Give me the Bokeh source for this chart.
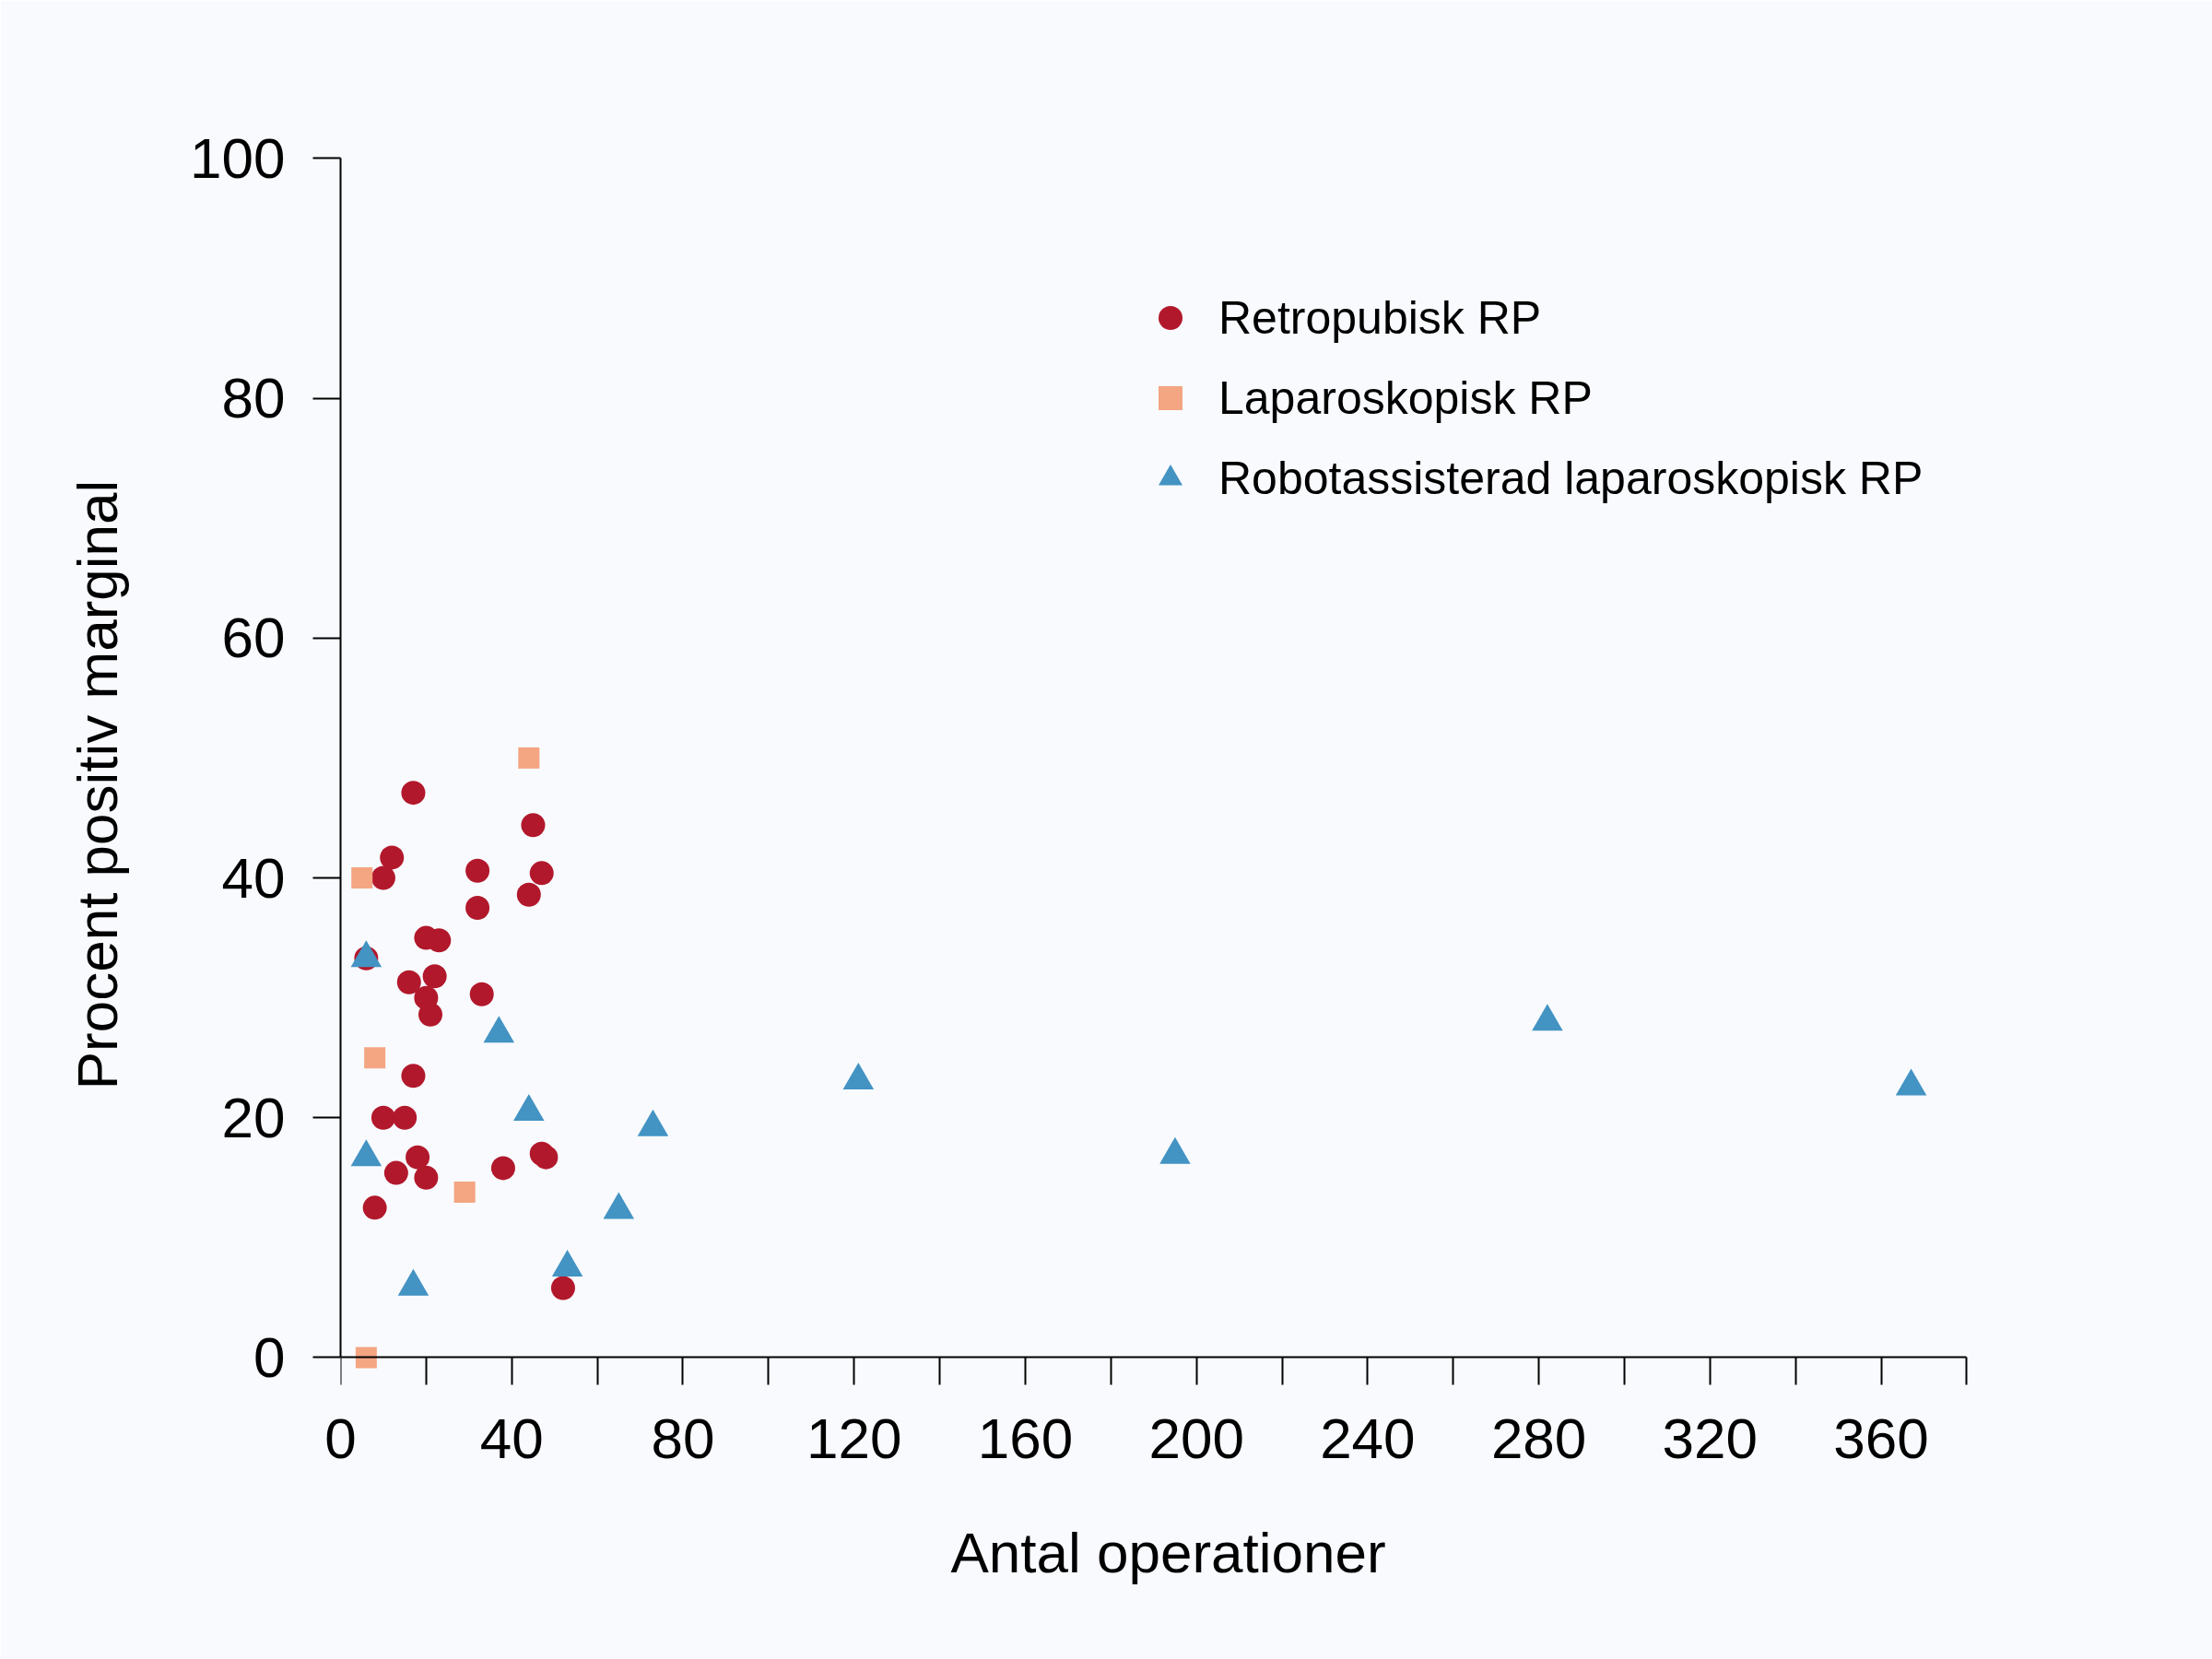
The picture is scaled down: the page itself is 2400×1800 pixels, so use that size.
from bokeh.plotting import figure
from bokeh.models import Range1d, FixedTicker, Legend, LegendItem, ColumnDataSource, LinearAxis
from bokeh.embed import file_html
from bokeh.resources import INLINE

# ---- data (antal operationer, procent positiv marginal) ----
retro_x = [17, 12, 10, 32, 32, 45, 47, 44, 20, 23, 6, 22, 16, 20, 21, 33, 17, 10, 15, 18, 13, 20, 8, 38, 47, 48, 52]
retro_y = [47.1, 41.7, 40.0, 40.6, 37.5, 44.4, 40.4, 38.6, 35.0, 34.8, 33.3, 31.8, 31.3, 30.0, 28.6, 30.3, 23.5, 20.0, 20.0, 16.7, 15.4, 15.0, 12.5, 15.8, 17.0, 16.7, 5.8]

lap_x = [44, 5, 8, 29, 6]
lap_y = [50.0, 40.0, 25.0, 13.8, 0.0]

robot_x = [6, 37, 44, 6, 17, 53, 73, 65, 121, 195, 282, 367]
robot_y = [33.3, 27.0, 20.5, 16.7, 5.9, 7.5, 19.2, 12.3, 23.1, 16.9, 28.0, 22.6]

series_labels = ["Retropubisk RP", "Laparoskopisk RP", "Robotassisterad laparoskopisk RP"]

x_tick_values = list(range(0, 381, 20))
x_tick_labels = ["0", "", "40", "", "80", "", "120", "", "160", "", "200", "", "240", "", "280", "", "320", "", "360", ""]
y_tick_values = [0, 20, 40, 60, 80, 100]
y_tick_labels = ["0", "20", "40", "60", "80", "100"]

x_title = "Antal operationer"
y_title = "Procent positiv marginal"

# ---- styling ----
BG = "#F8FAFE"
RED = "#B2182B"
SALMON = "#F4A582"
BLUE = "#4393C3"
FONT = "Liberation Sans"

p = figure(width=2400, height=1800,
           x_range=Range1d(0, 386.8), y_range=Range1d(-4.5, 100.03),
           output_backend="svg", toolbar_location=None,
           min_border_left=369, min_border_right=235,
           min_border_top=171, min_border_bottom=269)

p.background_fill_color = BG
p.border_fill_color = BG
p.outline_line_color = None
p.grid.visible = False

src_r = ColumnDataSource(dict(x=retro_x, y=retro_y))
src_l = ColumnDataSource(dict(x=lap_x, y=lap_y))
src_b = ColumnDataSource(dict(x=robot_x, y=robot_y))

r1 = p.scatter("x", "y", source=src_r, marker="circle", size=26, fill_color=RED, line_color=None)
r2 = p.scatter("x", "y", source=src_l, marker="square", size=23, fill_color=SALMON, line_color=None)
r3 = p.scatter("x", "y", source=src_b, marker="triangle", size=33.5, fill_color=BLUE, line_color=None)

x_overrides = {v: l for v, l in zip(x_tick_values, x_tick_labels)}

# standard bottom axis: only tick labels and title
xa = p.xaxis[0]
xa.ticker = FixedTicker(ticks=x_tick_values)
xa.major_label_overrides = x_overrides
xa.axis_line_color = None
xa.major_tick_line_color = None
xa.major_tick_in = 0
xa.major_tick_out = 0
xa.minor_tick_line_color = None
xa.major_label_standoff = 8
xa.axis_label = x_title
xa.axis_label_standoff = 65

# axis line + ticks placed at y = 0
xline = LinearAxis(ticker=FixedTicker(ticks=x_tick_values), bounds=(0, 380), fixed_location=0,
                   major_label_overrides={v: "" for v in x_tick_values},
                   major_label_text_font_size="1px", major_label_text_alpha=0,
                   major_label_standoff=0)
xline.axis_line_width = 2
xline.axis_line_color = "black"
xline.major_tick_line_width = 2
xline.major_tick_line_color = "black"
xline.major_tick_in = 0
xline.major_tick_out = 30
xline.minor_tick_line_color = None
p.add_layout(xline, "below")

ya = p.yaxis[0]
ya.ticker = FixedTicker(ticks=y_tick_values)
ya.major_label_overrides = {v: l for v, l in zip(y_tick_values, y_tick_labels)}
ya.bounds = (0, 100)
ya.axis_line_width = 2
ya.axis_line_color = "black"
ya.major_tick_line_width = 2
ya.major_tick_line_color = "black"
ya.major_tick_in = 0
ya.major_tick_out = 30
ya.minor_tick_line_color = None
ya.major_label_standoff = 30
ya.axis_label = y_title
ya.axis_label_standoff = 63

for ax in (xa, ya):
    ax.major_label_text_font = FONT
    ax.major_label_text_font_size = "62px"
    ax.major_label_text_color = "black"
    ax.axis_label_text_font = FONT
    ax.axis_label_text_font_size = "62px"
    ax.axis_label_text_font_style = "normal"
    ax.axis_label_text_color = "black"

legend = Legend(items=[LegendItem(label=series_labels[0], renderers=[r1]),
                       LegendItem(label=series_labels[1], renderers=[r2]),
                       LegendItem(label=series_labels[2], renderers=[r3])],
                location=(868, 980), orientation="vertical",
                glyph_width=65, glyph_height=65, label_height=65,
                label_standoff=20, spacing=22, padding=0, margin=0,
                border_line_color=None, background_fill_alpha=0,
                label_text_font=FONT, label_text_font_size="50px",
                label_text_color="black")
p.add_layout(legend)

open("out.html", "w").write(file_html(p, INLINE))
